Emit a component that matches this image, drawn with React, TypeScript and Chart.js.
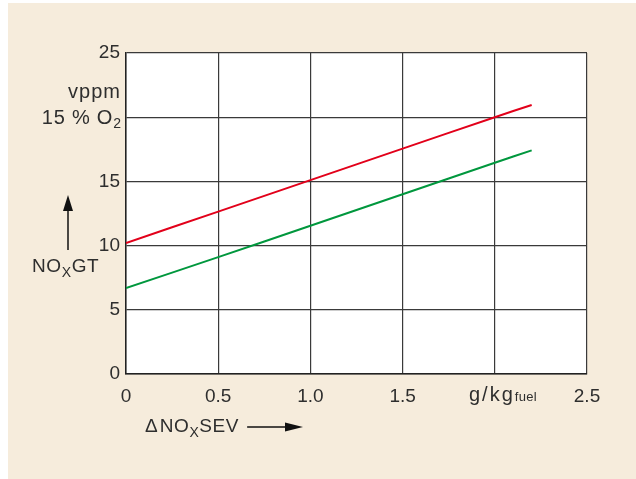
import React, { useEffect, useRef } from "react";
import { Chart, registerables } from "chart.js";

Chart.register(...registerables);

const xValues = [0, 0.5, 1.0, 1.5, 2.0, 2.2];
const redValues = [10.2, 12.65, 15.1, 17.55, 20.0, 20.95];
const greenValues = [6.7, 9.1, 11.55, 14.0, 16.45, 17.42];
const xTicks = [0, 0.5, 1.0, 1.5, 2.0, 2.5];
const yTicks = [0, 5, 10, 15, 20, 25];

const FONT = "'Liberation Sans', Arial, sans-serif";
const TXT = "#2e2e2e";

function drawParts(ctx: any, parts: { t: string; size: number; dy: number; ls?: number }[], x: number, y: number, align: "left" | "right") {
  let total = 0;
  for (const p of parts) {
    ctx.font = `${p.size}px ${FONT}`;
    ctx.letterSpacing = `${p.ls ?? 0.6}px`;
    total += ctx.measureText(p.t).width;
  }
  let cx = align === "left" ? x : x - total;
  ctx.textAlign = "left";
  ctx.textBaseline = "middle";
  for (const p of parts) {
    ctx.font = `${p.size}px ${FONT}`;
    ctx.letterSpacing = `${p.ls ?? 0.6}px`;
    ctx.fillText(p.t, cx, y + p.dy);
    cx += ctx.measureText(p.t).width;
  }
  ctx.letterSpacing = "0px";
  return cx;
}

const annotations = {
  id: "annotations",
  beforeDraw(chart: any) {
    const { ctx, chartArea } = chart;
    ctx.save();
    ctx.fillStyle = "#ffffff";
    ctx.fillRect(chartArea.left, chartArea.top, chartArea.right - chartArea.left, chartArea.bottom - chartArea.top);
    ctx.restore();
  },
  afterDraw(chart: any) {
    const { ctx } = chart;
    ctx.save();
    ctx.fillStyle = TXT;
    ctx.strokeStyle = "#111";
    // y unit
    drawParts(ctx, [{ t: "vppm", size: 20, dy: 0, ls: 1 }], 113, 89, "right");
    drawParts(ctx, [
      { t: "15 % O", size: 20, dy: 0, ls: 0.8 },
      { t: "2", size: 14, dy: 6, ls: 0 },
    ], 113, 115, "right");
    // NOxGT
    drawParts(ctx, [
      { t: "NO", size: 19, dy: 0 },
      { t: "X", size: 14, dy: 6 },
      { t: "GT", size: 19, dy: 0 },
    ], 24, 264, "left");
    // up arrow
    ctx.lineWidth = 1.5;
    ctx.beginPath();
    ctx.moveTo(60, 247);
    ctx.lineTo(60, 205);
    ctx.stroke();
    ctx.fillStyle = "#111";
    ctx.beginPath();
    ctx.moveTo(60, 192);
    ctx.lineTo(55, 208);
    ctx.lineTo(65, 208);
    ctx.closePath();
    ctx.fill();
    // x label
    ctx.fillStyle = TXT;
    const end = drawParts(ctx, [
      { t: "\u0394", size: 19, dy: 0, ls: 2 },
      { t: "NO", size: 19, dy: 0 },
      { t: "X", size: 14, dy: 6 },
      { t: "SEV", size: 19, dy: 0 },
    ], 137, 424, "left");
    const ax0 = end + 8;
    const ax1 = 295;
    ctx.beginPath();
    ctx.moveTo(ax0, 424);
    ctx.lineTo(ax1 - 14, 424);
    ctx.stroke();
    ctx.fillStyle = "#111";
    ctx.beginPath();
    ctx.moveTo(ax1, 424);
    ctx.lineTo(ax1 - 18, 419.5);
    ctx.lineTo(ax1 - 18, 428.5);
    ctx.closePath();
    ctx.fill();
    // x unit
    ctx.fillStyle = TXT;
    drawParts(ctx, [
      { t: "g/kg", size: 20, dy: 0, ls: 2 },
      { t: "fuel", size: 13, dy: 2, ls: 0.3 },
    ], 461, 392, "left");
    ctx.restore();
  },
};

export default function App() {
  const ref = useRef<HTMLCanvasElement>(null);
  useEffect(() => {
    const chart = new Chart(ref.current!, {
      type: "line",
      data: {
        datasets: [
          {
            label: "red",
            data: xValues.map((x, i) => ({ x, y: redValues[i] })),
            borderColor: "#e2001a",
            borderWidth: 2,
            pointRadius: 0,
            tension: 0.3,
          },
          {
            label: "green",
            data: xValues.map((x, i) => ({ x, y: greenValues[i] })),
            borderColor: "#00973d",
            borderWidth: 2,
            pointRadius: 0,
            tension: 0.3,
          },
        ],
      },
      plugins: [annotations],
      options: {
        animation: false,
        responsive: false,
        layout: { padding: { left: 0, right: 49, top: 50, bottom: 65 } },
        plugins: { legend: { display: false }, tooltip: { enabled: false } },
        scales: {
          x: {
            type: "linear",
            min: 0,
            max: 2.5,
            afterBuildTicks: (s: any) => {
              s.ticks = xTicks.map((v) => ({ value: v }));
            },
            afterFit: (s: any) => {
              s.height = 40;
            },
            ticks: {
              padding: 11,
              color: TXT,
              font: { family: FONT, size: 19 },
              maxRotation: 0,
              callback: (v: any) => (v === 2 ? "" : v === 0 ? "0" : Number(v).toFixed(1)),
            },
            grid: { color: "#3a3a3a", lineWidth: 1.2, drawTicks: false },
            border: { color: "#222", width: 1.5 },
          },
          y: {
            min: 0,
            max: 25,
            afterBuildTicks: (s: any) => {
              s.ticks = yTicks.map((v) => ({ value: v }));
            },
            afterFit: (s: any) => {
              s.width = 118;
            },
            ticks: {
              padding: 6,
              color: TXT,
              font: { family: FONT, size: 19 },
              callback: (v: any) => (v === 20 ? "" : String(v)),
            },
            grid: { color: "#3a3a3a", lineWidth: 1.2, drawTicks: false },
            border: { color: "#222", width: 1.5 },
          },
        },
      },
    } as any);
    return () => chart.destroy();
  }, []);
  return (
    <div style={{ position: "absolute", left: 8, top: 3, width: 628, height: 476, background: "#f6ecdc" }}>
      <canvas ref={ref} width={628} height={476} style={{ display: "block", width: 628, height: 476 }} />
    </div>
  );
}
